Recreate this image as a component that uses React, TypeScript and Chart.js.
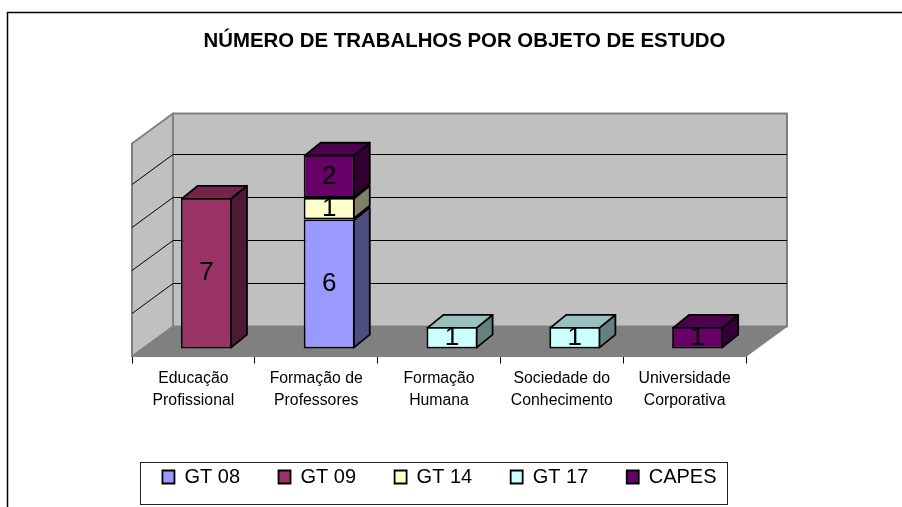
import React, { useEffect, useRef } from "react";
import { Chart, registerables } from "chart.js";

Chart.register(...registerables);

const FONT = "'Liberation Sans', Arial, sans-serif";
const categories = [
  ["Educação", "Profissional"],
  ["Formação de", "Professores"],
  ["Formação", "Humana"],
  ["Sociedade do", "Conhecimento"],
  ["Universidade", "Corporativa"],
];
const titleText = "NÚMERO DE TRABALHOS POR OBJETO DE ESTUDO";
const seriesNames = ["GT 08", "GT 09", "GT 14", "GT 17", "CAPES"];
const gt08 = [null, 6, null, null, null];
const gt09 = [7, null, null, null, null];
const gt14 = [null, 1, null, null, null];
const gt17 = [null, null, 1, 1, null];
const capes = [null, 2, null, null, 1];
const seriesValues = [gt08, gt09, gt14, gt17, capes];
const frontColors = ["#9999ff", "#993366", "#ffffcc", "#ccffff", "#660066"];
const sideColors = ["#4d4d80", "#4d1a33", "#808066", "#668080", "#330033"];
const topColors = ["#7373bf", "#732649", "#bfbf99", "#99bfbf", "#4d004d"];

const WALL = { dx: 41, dy: -30 };
const BAR_SHIFT = { dx: 13, dy: -8 };
const BAR_DEPTH = { dx: 16, dy: -13 };
const BAR_LINE = 1.8;

function poly(ctx: CanvasRenderingContext2D, pts: number[][], fill: string, stroke: string, lw: number) {
  ctx.beginPath();
  pts.forEach((p, i) => (i ? ctx.lineTo(p[0], p[1]) : ctx.moveTo(p[0], p[1])));
  ctx.closePath();
  ctx.fillStyle = fill;
  ctx.fill();
  if (lw > 0) {
    ctx.strokeStyle = stroke;
    ctx.lineWidth = lw;
    ctx.lineJoin = "round";
    ctx.stroke();
  }
}

const scene3d = {
  id: "scene3d",
  afterLayout(chart: any) {
    const t = chart.titleBlock;
    t.left = 464.5 - 300;
    t.right = 464.5 + 300;
  },
  beforeDraw(chart: any) {
    const { ctx } = chart;
    ctx.save();
    ctx.fillStyle = "#ffffff";
    ctx.fillRect(0, 0, chart.width, chart.height);
    ctx.strokeStyle = "#000000";
    ctx.lineWidth = 1.5;
    ctx.beginPath();
    ctx.moveTo(7.5, chart.height);
    ctx.lineTo(7.5, 12.5);
    ctx.lineTo(chart.width, 12.5);
    ctx.stroke();
    ctx.lineWidth = 1;
    ctx.strokeStyle = "#222222";
    ctx.strokeRect(140.5, 462.5, 587, 42);
    ctx.restore();
  },
  beforeDatasetsDraw(chart: any) {
    const { ctx, chartArea: a, scales } = chart;
    const y = scales.y;
    const { dx, dy } = WALL;
    const l = a.left, r = a.right, b = a.bottom, t = y.getPixelForValue(y.max);
    ctx.save();
    poly(ctx, [[l + dx, t + dy], [r + dx, t + dy], [r + dx, b + dy], [l + dx, b + dy]], "#c0c0c0", "#808080", 2);
    poly(ctx, [[l, t], [l + dx, t + dy], [l + dx, b + dy], [l, b]], "#c0c0c0", "#808080", 2);
    poly(ctx, [[l, b], [l + dx, b + dy], [r + dx, b + dy], [r, b]], "#808080", "#808080", 1);
    ctx.strokeStyle = "#000000";
    ctx.lineWidth = 1;
    y.ticks.forEach((tk: any) => {
      if (tk.value <= y.min || tk.value >= y.max) return;
      const py = Math.round(y.getPixelForValue(tk.value)) + 0.5;
      ctx.beginPath();
      ctx.moveTo(l, py);
      ctx.lineTo(l + dx, py + dy);
      ctx.lineTo(r + dx, py + dy);
      ctx.stroke();
    });
    const tops: Record<number, number> = {};
    chart.data.datasets.forEach((ds: any, di: number) => {
      ds.data.forEach((v: any, i: number) => { if (v != null) tops[i] = di; });
    });
    const s = BAR_SHIFT, d = BAR_DEPTH;
    const inset = BAR_LINE / 2;
    chart.data.datasets.forEach((ds: any, di: number) => {
      const meta = chart.getDatasetMeta(di);
      meta.data.forEach((el: any, i: number) => {
        if (ds.data[i] == null) return;
        const x1 = el.x + el.width / 2 + s.dx - inset;
        const x0 = el.x - el.width / 2 + s.dx + inset;
        const yTop = el.y + s.dy + inset;
        const yBot = el.base + s.dy - inset;
        poly(ctx, [[x1, yTop], [x1 + d.dx, yTop + d.dy], [x1 + d.dx, yBot + d.dy], [x1, yBot]], sideColors[di], "#000000", BAR_LINE);
        if (tops[i] === di) {
          poly(ctx, [[x0, yTop], [x0 + d.dx, yTop + d.dy], [x1 + d.dx, yTop + d.dy], [x1, yTop]], topColors[di], "#000000", BAR_LINE);
        }
      });
    });
    ctx.restore();
  },
  beforeDatasetDraw(chart: any) {
    chart.ctx.save();
    chart.ctx.translate(BAR_SHIFT.dx, BAR_SHIFT.dy);
  },
  afterDatasetDraw(chart: any) {
    chart.ctx.restore();
  },
  afterDatasetsDraw(chart: any) {
    const { ctx } = chart;
    ctx.save();
    ctx.fillStyle = "#000000";
    ctx.font = `26px ${FONT}`;
    ctx.textAlign = "center";
    ctx.textBaseline = "middle";
    chart.data.datasets.forEach((ds: any, di: number) => {
      chart.getDatasetMeta(di).data.forEach((el: any, i: number) => {
        if (ds.data[i] == null) return;
        ctx.fillText(String(ds.data[i]), el.x + BAR_SHIFT.dx, (el.y + el.base) / 2 + BAR_SHIFT.dy);
      });
    });
    ctx.restore();
  },
};

export default function App() {
  const ref = useRef<HTMLCanvasElement>(null);
  useEffect(() => {
    const hiddenAxis = {
      border: { display: false },
      grid: { display: false, drawTicks: false },
      ticks: { display: false },
    };
    const chart = new Chart(ref.current!, {
      type: "bar",
      data: {
        labels: categories,
        datasets: seriesNames.map((name, i) => ({
          label: name,
          data: seriesValues[i],
          backgroundColor: frontColors[i],
          borderColor: "#000000",
          borderWidth: BAR_LINE,
          borderSkipped: false,
          clip: false,
          barPercentage: 0.415,
          categoryPercentage: 1,
        })),
      },
      options: {
        responsive: false,
        animation: false,
        events: [],
        layout: { padding: { left: 100, right: 123, top: 0, bottom: 10 } },
        plugins: {
          tooltip: { enabled: false },
          title: {
            display: true,
            text: titleText,
            color: "#000000",
            font: { family: FONT, size: 20.4, weight: "bold" },
            padding: { top: 29, bottom: 90 },
          },
          legend: {
            position: "bottom",
            labels: {
              color: "#000000",
              font: { family: FONT, size: 20 },
              boxWidth: 12,
              boxHeight: 13,
              padding: 38.5,
            },
          },
        },
        scales: {
          x: {
            stacked: true,
            afterFit: (s: any) => { s.height = 72; },
            border: { color: "#000000", width: 1 },
            grid: { drawOnChartArea: false, drawTicks: true, tickLength: 7, color: "#000000" },
            ticks: {
              color: "#000000",
              maxRotation: 0,
              autoSkip: false,
              padding: 4,
              font: { family: FONT, size: 15.8, lineHeight: 1.38 },
            },
          },
          y: {
            ...hiddenAxis,
            stacked: true,
            min: 0,
            max: 9.9,
            position: "left",
            afterFit: (s: any) => { s.width = 32; },
            ticks: { display: false, stepSize: 2 },
          },
          yRight: {
            ...hiddenAxis,
            position: "right",
            afterFit: (s: any) => { s.width = 33; },
          },
        },
      },
      plugins: [scene3d],
    } as any);
    return () => chart.destroy();
  }, []);
  return (
    <div style={{ position: "fixed", left: 0, top: 0, width: 902, height: 507 }}>
      <canvas ref={ref} width={902} height={507} style={{ display: "block" }} />
    </div>
  );
}
